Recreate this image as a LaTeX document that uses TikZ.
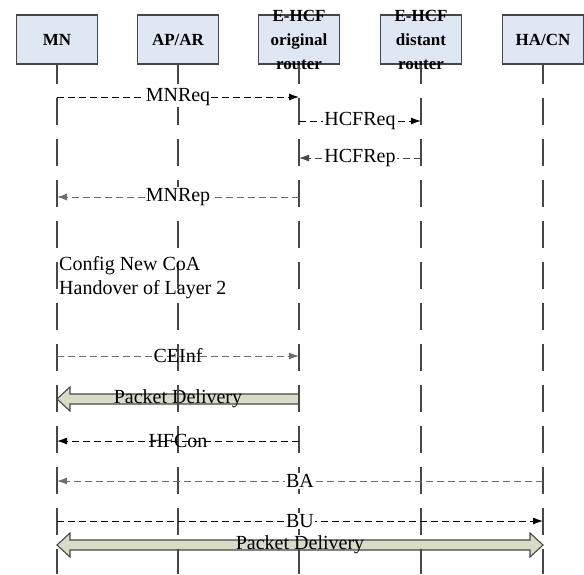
\documentclass[tikz,border=0pt]{standalone}
\usepackage{fontspec}
\setmainfont{Liberation Serif}
\usetikzlibrary{arrows.meta,calc}

\definecolor{boxblue}{HTML}{DFE7F3}
\definecolor{pdgreen}{HTML}{D8DCC6}
\definecolor{linegray}{HTML}{474747}
\definecolor{msggray}{HTML}{6E6E6E}

\begin{document}
\begin{tikzpicture}[x=1pt, y=-1pt,
    entity/.style={draw=linegray, line width=1.3pt, fill=boxblue, minimum width=81pt, minimum height=49pt, inner sep=0pt},
    entlbl/.style={font=\fontsize{17}{24}\selectfont\bfseries, align=center, inner sep=0pt},
    lifeline/.style={draw=linegray, line width=1.5pt, dash pattern=on 27pt off 14pt, dash phase=8pt},
    msg/.style={-{Latex[length=10pt,width=7pt]}, line width=1pt, dash pattern=on 7pt off 4pt},
    msglbl/.style={fill=white, inner sep=1pt, font=\fontsize{20}{24}\selectfont},
    clearlbl/.style={inner sep=1pt, font=\fontsize{20}{24}\selectfont},
    pdarrow/.style={draw=linegray, line width=1.1pt, fill=pdgreen, line join=miter}]
    \useasboundingbox (0,0) rectangle (584,574);

    % Entidades
    \node[entity] (mn) at (57,39.5) {};
    \node[entity] (apar) at (178,39.5) {};
    \node[entity] (orig) at (299,39.5) {};
    \node[entity] (dist) at (421,39.5) {};
    \node[entity] (hacn) at (543,39.5) {};
    \node[entlbl] (mn-t) at (mn) {MN};
    \node[entlbl] (apar-t) at (apar) {AP/AR};
    \node[entlbl] (orig-t) at (orig) {E-HCF\\original\\router};
    \node[entlbl] (dist-t) at (dist) {E-HCF\\distant\\router};
    \node[entlbl] (hacn-t) at (hacn) {HA/CN};

    % Niveis das mensagens
    \coordinate (bottom) at (0,574);
    \coordinate (t1) at (0,97);
    \coordinate (t2) at (0,121);
    \coordinate (t3) at (0,158);
    \coordinate (t4) at (0,197);
    \coordinate (t5) at (0,356);
    \coordinate (p1) at (0,399);
    \coordinate (t6) at (0,441);
    \coordinate (t7) at (0,481);
    \coordinate (t8) at (0,521);
    \coordinate (p2) at (0,545);

    % Packet Delivery (setas largas)
    \draw[pdarrow] ($(orig |- p1)+(0,-5)$) -- ($(mn |- p1)+(13,-5)$) -- ++(0,-7) -- (mn |- p1)
        -- ($(mn |- p1)+(13,12)$) -- ++(0,-7) -- ($(orig |- p1)+(0,5)$) -- cycle;
    \draw[pdarrow] (mn |- p2) -- ($(mn |- p2)+(13,-12)$) -- ++(0,7) -- ($(hacn |- p2)+(-13,-5)$) -- ++(0,-7)
        -- (hacn |- p2) -- ($(hacn |- p2)+(-13,12)$) -- ++(0,-7) -- ($(mn |- p2)+(13,5)$) -- ++(0,7) -- cycle;
    \node[clearlbl] (pd1) at ($(mn |- p1)!0.5!(orig |- p1)$) {Packet Delivery};
    \node[clearlbl] (pd2) at ($(mn |- p2)!0.5!(hacn |- p2)$) {Packet Delivery};

    % Linhas de vida
    \foreach \e in {mn,apar,orig,dist,hacn}
        \draw[lifeline] (\e.south) -- (\e.south |- bottom);

    % Mensagens
    \draw[msg] (mn |- t1) -- node[msglbl] (mnreq) {MNReq} (orig |- t1);
    \draw[msg] (orig |- t2) -- node[msglbl] (hcfreq) {HCFReq} (dist |- t2);
    \draw[msg, draw=linegray] (dist |- t3) -- node[msglbl] (hcfrep) {HCFRep} (orig |- t3);
    \draw[msg, draw=msggray] (orig |- t4) -- node[msglbl] (mnrep) {MNRep} (mn |- t4);
    \node[clearlbl, anchor=west, align=left, inner sep=0pt] (cfg) at (59,278) {Config New CoA\\Handover of Layer 2};
    \draw[msg, draw=msggray] (mn |- t5) -- node[clearlbl] (ceinf) {CEInf} (orig |- t5);
    \draw[msg] (orig |- t6) -- node[clearlbl] (hfcon) {HFCon} (mn |- t6);
    \draw[msg, draw=msggray] (hacn |- t7) -- node[msglbl] (ba) {BA} (mn |- t7);
    \draw[msg] (mn |- t8) -- node[msglbl] (bu) {BU} (hacn |- t8);
\end{tikzpicture}
\end{document}
